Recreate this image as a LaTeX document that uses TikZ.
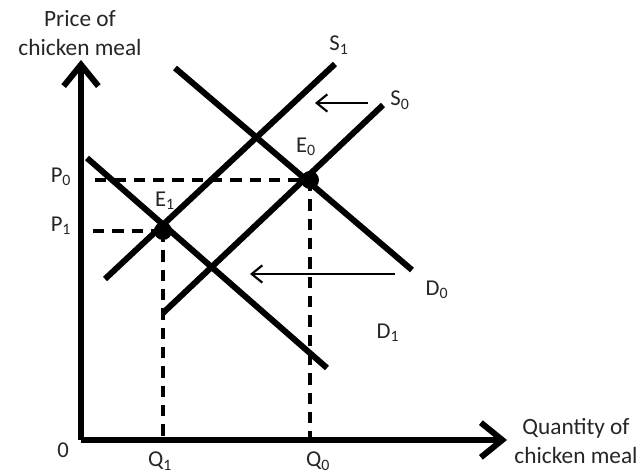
\documentclass[tikz,border=0pt]{standalone}
\usepackage{fontspec}
\setmainfont{Carlito}
\usetikzlibrary{arrows.meta}
\begin{document}
\begin{tikzpicture}[x=0.75pt,y=-0.75pt,
  axis/.style={line width=4.5pt, -{Straight Barb[length=16pt,width=26pt]}},
  curve/.style={line width=4.5pt},
  guide/.style={line width=2.6pt, dash pattern=on 8.5pt off 6pt},
  shiftarrow/.style={line width=1.6pt, -{Straight Barb[length=8pt,width=13pt]}},
  lbl/.style={font=\fontsize{17}{19}\selectfont, inner sep=0pt, text=black!85},
  ttl/.style={font=\fontsize{17.5}{21.5}\selectfont, align=center, inner sep=0pt, text=black!85},
  eqdot/.style={circle, fill=black, minimum size=13.5pt, inner sep=0pt}]
\useasboundingbox (0,0) rectangle (644,473);
\clip (0,0) rectangle (644,473);
\fill[white] (0,0) rectangle (644,473);
% axes
\coordinate (o) at (81,440);
\coordinate (ytip) at (81,60);
\coordinate (xtip) at (507,440);
\draw[axis] (o) -- (ytip);
\draw[axis] (o) -- (xtip);
% equilibrium points
\coordinate (e0) at (310,180);
\coordinate (e1) at (163,231);
% guides
\coordinate (p0) at (95,180);
\coordinate (p1) at (93,231);
\coordinate (q0) at (310,440);
\coordinate (q1) at (163,440);
\draw[guide] (p0) -- (e0);
\draw[guide] (p1) -- (e1);
\draw[guide] (e0) -- (q0);
\draw[guide] (e1) -- (q1);
% curves
\coordinate (s1a) at (105,279);
\coordinate (s1b) at (335,64);
\coordinate (s0a) at (163,313);
\coordinate (s0b) at (383,105);
\coordinate (d0a) at (175,68);
\coordinate (d0b) at (412,270);
\coordinate (d1a) at (87,158);
\coordinate (d1b) at (327,368);
\draw[curve] (s1a) -- (s1b);
\draw[curve] (s0a) -- (s0b);
\draw[curve] (d0a) -- (d0b);
\draw[curve] (d1a) -- (d1b);
% dots
\node[eqdot] (E0dot) at (e0) {};
\node[eqdot] (E1dot) at (e1) {};
% shift arrows
\coordinate (sa) at (368,103);
\coordinate (sb) at (315,103);
\coordinate (da) at (395,274);
\coordinate (db) at (250,274);
\draw[shiftarrow] (sa) -- (sb);
\draw[shiftarrow] (da) -- (db);
% labels
\node[ttl] (ytitle) at (80,33) {Price of\\chicken meal};
\node[ttl] (xtitle) at (576,441) {Quantity of\\chicken meal};
\node[lbl] (S1) at (339,45) {S\textsubscript{1}};
\node[lbl] (S0) at (400,100) {S\textsubscript{0}};
\node[lbl] (E0) at (306,147) {E\textsubscript{0}};
\node[lbl] (E1) at (165,201) {E\textsubscript{1}};
\node[lbl] (P0) at (61,177) {P\textsubscript{0}};
\node[lbl] (P1) at (61,226) {P\textsubscript{1}};
\node[lbl] (D0) at (437,290) {D\textsubscript{0}};
\node[lbl] (D1) at (388,333) {D\textsubscript{1}};
\node[lbl] (zero) at (63,450) {0};
\node[lbl] (Q1) at (160,461) {Q\textsubscript{1}};
\node[lbl] (Q0) at (318,461) {Q\textsubscript{0}};
\end{tikzpicture}
\end{document}
